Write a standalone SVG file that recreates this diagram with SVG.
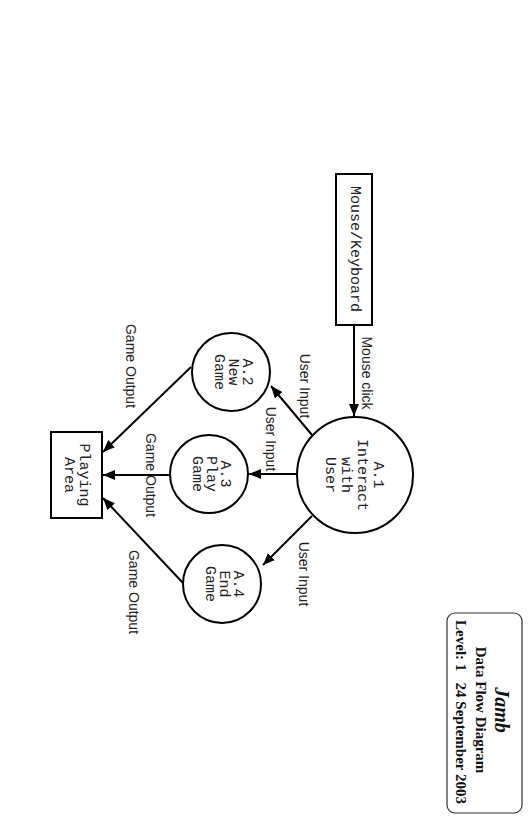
<svg xmlns="http://www.w3.org/2000/svg" width="532" height="827" viewBox="0 0 532 827">
<defs>
<marker id="ah" markerWidth="12" markerHeight="10" refX="12" refY="5" orient="auto" markerUnits="userSpaceOnUse">
<path d="M0,0 L12,5 L0,10 Z" fill="#000"/>
</marker>
<style>
.n{fill:#fff;stroke:#000;stroke-width:2}
.m{font-family:"Liberation Mono","Courier New",monospace;font-size:15px;fill:#222;text-anchor:middle;dominant-baseline:central}
.l{font-family:"Liberation Sans",Arial,sans-serif;font-size:14px;fill:#222;text-anchor:middle;dominant-baseline:central}
.c{stroke:#000;stroke-width:2;fill:none;marker-end:url(#ah)}
.t{font-family:"Liberation Serif","Times New Roman",serif;font-weight:bold;fill:#111;text-anchor:middle;dominant-baseline:central}
</style>
</defs>
<rect width="532" height="827" fill="#fff"/>
<g id="connectors">
<line class="c" x1="354" y1="325" x2="354" y2="416"/>
<line class="c" x1="312" y1="435" x2="271" y2="386"/>
<line class="c" x1="296" y1="474" x2="249" y2="474"/>
<line class="c" x1="312" y1="516" x2="263" y2="565"/>
<line class="c" x1="191" y1="367" x2="103" y2="452"/>
<line class="c" x1="170" y1="475" x2="103" y2="475"/>
<line class="c" x1="183" y1="583" x2="103" y2="498"/>
<text class="l" transform="translate(367,373) rotate(90)">Mouse click</text>
<text class="l" transform="translate(305,386) rotate(90)">User Input</text>
<text class="l" transform="translate(271,439) rotate(90)">User Input</text>
<text class="l" transform="translate(304,574) rotate(90)">User Input</text>
<text class="l" transform="translate(131,366) rotate(90)">Game Output</text>
<text class="l" transform="translate(151,475) rotate(90)">Game Output</text>
<text class="l" transform="translate(134,592) rotate(90)">Game Output</text>
</g>
<g id="mouse-keyboard">
<rect class="n" x="336" y="174" width="36" height="151"/>
<text class="m" transform="translate(354,249) rotate(90)">Mouse/Keyboard</text>
</g>
<g id="a1">
<circle class="n" cx="355" cy="475" r="58"/>
<text class="m" transform="translate(377,475) rotate(90)">A.1</text>
<text class="m" transform="translate(361,475) rotate(90)">Interact</text>
<text class="m" transform="translate(345,475) rotate(90)">with</text>
<text class="m" transform="translate(329,475) rotate(90)">User</text>
</g>
<g id="a2">
<circle class="n" cx="231" cy="372" r="39"/>
<text class="m" transform="translate(246,372) rotate(90)">A.2</text>
<text class="m" transform="translate(232,372) rotate(90)">New</text>
<text class="m" transform="translate(218,372) rotate(90)">Game</text>
</g>
<g id="a3">
<circle class="n" cx="209" cy="474" r="39"/>
<text class="m" transform="translate(224,474) rotate(90)">A.3</text>
<text class="m" transform="translate(210,474) rotate(90)">Play</text>
<text class="m" transform="translate(196,474) rotate(90)">Game</text>
</g>
<g id="a4">
<circle class="n" cx="222" cy="584" r="39"/>
<text class="m" transform="translate(237,584) rotate(90)">A.4</text>
<text class="m" transform="translate(223,584) rotate(90)">End</text>
<text class="m" transform="translate(209,584) rotate(90)">Game</text>
</g>
<g id="playing-area">
<rect class="n" x="51" y="432" width="51" height="86"/>
<text class="m" transform="translate(83,475) rotate(90)">Playing</text>
<text class="m" transform="translate(68,475) rotate(90)">Area</text>
</g>
<g id="title">
<rect x="447" y="613" width="75" height="200" rx="8" fill="#fff" stroke="#333" stroke-width="1.2"/>
<text class="t" font-size="20" font-style="italic" transform="translate(502,710) rotate(90)">Jamb</text>
<text class="t" font-size="15" transform="translate(481,710) rotate(90)">Data Flow Diagram</text>
<text class="t" font-size="15" xml:space="preserve" transform="translate(461,712) rotate(90)">Level: 1   24 September 2003</text>
</g>
</svg>
